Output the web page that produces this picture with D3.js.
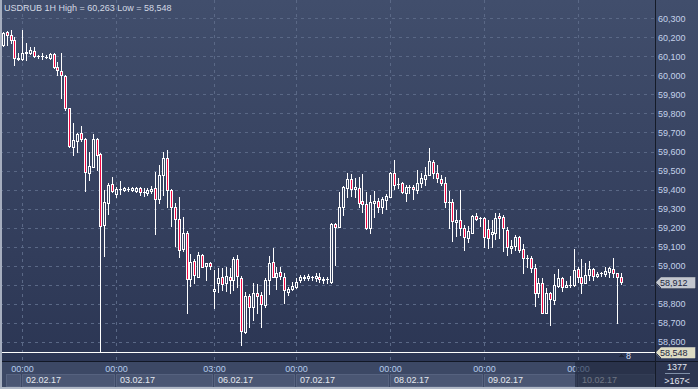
<!DOCTYPE html>
<html><head><meta charset="utf-8">
<script src="https://cdn.jsdelivr.net/npm/d3@7"></script>
<style>html,body{margin:0;padding:0;background:#2c3654;}svg{display:block;}</style>
</head><body>
<svg id="chart" width="698" height="389"></svg>
<script>
const titleText = "USDRUB 1H High = 60,263 Low = 58,548";
const opens = [60.160,60.226,60.212,60.186,60.086,60.086,60.118,60.119,60.130,60.102,
60.101,60.099,60.090,60.111,60.046,60.025,59.997,59.827,59.625,59.657,
59.696,59.664,59.485,59.520,59.664,59.587,59.214,59.331,59.429,59.377,
59.401,59.398,59.402,59.398,59.394,59.408,59.389,59.384,59.391,59.407,
59.349,59.477,59.564,59.398,59.307,59.244,59.086,59.173,58.928,59.026,
58.942,59.056,58.998,59.013,58.867,58.911,58.942,58.911,58.942,58.925,
59.034,58.934,58.653,58.841,58.784,58.858,58.846,58.793,58.925,59.021,
58.942,58.965,58.942,58.863,58.876,58.890,58.925,58.934,58.934,58.942,
58.937,58.942,58.928,58.928,58.916,59.217,59.205,59.310,59.407,59.454,
59.401,59.407,59.340,59.324,59.196,59.331,59.340,59.310,59.345,59.362,
59.489,59.429,59.433,59.384,59.412,59.412,59.398,59.433,59.454,59.477,
59.546,59.489,59.454,59.436,59.337,59.336,59.231,59.240,59.196,59.144,
59.173,59.261,59.250,59.252,59.191,59.167,59.173,59.261,59.254,59.187,
59.091,59.103,59.152,59.086,59.040,59.039,58.986,58.855,58.907,58.753,
58.858,58.819,58.893,58.934,58.890,58.897,58.898,58.981,58.939,58.911,
58.951,58.981,58.946,58.959,58.956,58.968,58.981,58.960,58.939];
const highs = [60.228,60.233,60.239,60.203,60.116,60.239,60.170,60.151,60.148,60.107,
60.116,60.107,60.116,60.116,60.072,60.116,60.002,59.827,59.750,59.697,
59.734,59.671,59.599,59.692,59.669,59.591,59.398,59.433,59.468,59.415,
59.445,59.415,59.412,59.413,59.415,59.415,59.407,59.407,59.419,59.494,
59.529,59.599,59.608,59.401,59.331,59.359,59.257,59.184,59.061,59.034,
59.073,59.061,59.013,59.021,58.976,58.986,58.986,58.991,58.986,59.047,
59.056,58.946,58.863,58.851,58.911,58.904,58.863,58.934,59.051,59.091,
58.995,58.991,58.960,58.890,58.916,58.934,58.951,58.951,58.956,58.946,
58.960,58.960,58.939,58.939,59.226,59.223,59.389,59.419,59.489,59.482,
59.459,59.464,59.482,59.389,59.371,59.392,59.354,59.362,59.377,59.494,
59.555,59.459,59.441,59.424,59.424,59.424,59.503,59.485,59.517,59.617,
59.555,59.529,59.477,59.468,59.394,59.349,59.293,59.398,59.214,59.209,
59.266,59.275,59.257,59.257,59.240,59.240,59.279,59.275,59.266,59.202,
59.135,59.161,59.156,59.114,59.056,59.051,59.009,58.934,58.934,58.881,
58.863,58.956,58.981,58.939,58.921,58.946,59.086,58.991,59.034,59.012,
59.026,58.986,58.968,58.968,58.991,58.995,59.039,58.963,58.963];
const lows = [60.154,60.160,60.170,60.055,60.081,60.081,60.081,60.111,60.095,60.090,
60.085,60.090,60.085,60.037,60.002,59.880,59.818,59.624,59.582,59.599,
59.657,59.394,59.450,59.520,59.503,58.548,59.051,59.272,59.389,59.362,
59.377,59.394,59.391,59.391,59.389,59.371,59.366,59.371,59.380,59.166,
59.328,59.371,59.307,59.209,59.103,59.044,59.079,58.750,58.893,58.911,
58.942,58.995,58.927,58.981,58.776,58.863,58.872,58.869,58.858,58.872,
58.886,58.583,58.648,58.679,58.715,58.753,58.676,58.784,58.851,58.939,
58.876,58.928,58.806,58.846,58.872,58.881,58.916,58.925,58.925,58.925,
58.921,58.916,58.907,58.907,58.911,59.002,59.205,59.266,59.362,59.366,
59.362,59.307,59.284,59.191,59.173,59.257,59.284,59.278,59.296,59.362,
59.401,59.407,59.380,59.341,59.380,59.349,59.380,59.415,59.424,59.477,
59.459,59.441,59.424,59.307,59.196,59.131,59.156,59.161,59.082,59.126,
59.170,59.240,59.209,59.097,59.091,59.097,59.139,59.144,59.079,59.056,
59.065,59.082,59.073,58.960,58.991,58.968,58.788,58.837,58.750,58.750,
58.688,58.799,58.886,58.869,58.886,58.886,58.893,58.916,58.855,58.907,
58.925,58.925,58.939,58.948,58.946,58.939,58.939,58.700,58.905];
const closes = [60.223,60.214,60.186,60.090,60.093,60.119,60.123,60.133,60.102,60.100,
60.103,60.098,60.112,60.046,60.028,60.002,59.827,59.629,59.660,59.692,
59.664,59.494,59.524,59.664,59.582,59.209,59.336,59.424,59.394,59.401,
59.403,59.408,59.401,59.408,59.408,59.389,59.388,59.398,59.405,59.349,
59.477,59.564,59.398,59.307,59.244,59.082,59.173,58.928,59.021,58.949,
59.056,58.995,59.013,58.998,58.877,58.934,58.904,58.946,58.925,59.034,
58.946,58.658,58.841,58.781,58.858,58.842,58.797,58.925,59.016,58.942,
58.963,58.946,58.872,58.876,58.893,58.916,58.942,58.942,58.946,58.941,
58.946,58.928,58.927,58.929,59.219,59.205,59.310,59.412,59.454,59.401,
59.412,59.331,59.324,59.196,59.333,59.340,59.310,59.349,59.366,59.489,
59.424,59.428,59.389,59.412,59.411,59.401,59.436,59.459,59.477,59.550,
59.489,59.459,59.436,59.336,59.335,59.236,59.240,59.196,59.152,59.184,
59.261,59.244,59.249,59.152,59.147,59.179,59.249,59.249,59.196,59.097,
59.103,59.152,59.082,59.039,59.039,58.986,58.855,58.907,58.753,58.858,
58.823,58.898,58.934,58.890,58.898,58.899,58.977,58.939,58.911,58.951,
58.981,58.946,58.956,58.960,58.974,58.986,58.960,58.939,58.912];
const yTickValues = [58.6,58.7,58.8,58.9,59.0,59.1,59.2,59.3,59.4,59.5,59.6,59.7,59.8,59.9,60.0,60.1,60.2,60.3];
const tickIndex = [5,29,54,75,99,123,147];
const timeLabels = ["00:00","00:00","03:00","00:00","00:00","00:00","00:00"];
const dateLabels = ["02.02.17","03.02.17","06.02.17","07.02.17","08.02.17","09.02.17","10.02.17"];
const lastPrice = 58.912;
const lowPrice = 58.548;
const barsTotal = "1377";
const barsVisible = ">167<";
const markerText = "8";

const W = 698, H = 389, plotR = 655, plotB = 361;
const FONT = "'Liberation Sans', Arial, sans-serif";
const fmt = v => d3.format(".3f")(v).replace(".", ",");

const svg = d3.select("#chart").attr("shape-rendering", "crispEdges");
const defs = svg.append("defs");
const g1 = defs.append("linearGradient").attr("id","bg").attr("x1",0).attr("y1",0).attr("x2",0).attr("y2",1);
g1.append("stop").attr("offset","0%").attr("stop-color","#414e6c");
g1.append("stop").attr("offset","100%").attr("stop-color","#2a3452");
defs.append("clipPath").attr("id","plotClip").append("rect").attr("x",2).attr("y",0).attr("width",plotR-2).attr("height",plotB);

svg.append("rect").attr("width",W).attr("height",H).attr("fill","url(#bg)");

const x = d3.scaleLinear().domain([-0.7, 166.8]).range([0, plotR]);
const y = d3.scaleLinear().domain([58.548, 60.300]).range([351.7, 18.3]);
const px = v => Math.round(v);

const plot = svg.append("g").attr("clip-path","url(#plotClip)");

// grid
plot.selectAll("line.hg").data(yTickValues).enter().append("line")
  .attr("x1",0).attr("x2",plotR)
  .attr("y1",d=>px(y(d))+0.5).attr("y2",d=>px(y(d))+0.5)
  .attr("stroke","#5a6886").attr("stroke-dasharray","3,4");
plot.selectAll("line.vg").data(tickIndex).enter().append("line")
  .attr("x1",d=>px(x(d))+0.5).attr("x2",d=>px(x(d))+0.5)
  .attr("y1",0).attr("y2",plotB)
  .attr("stroke","#5a6886").attr("stroke-dasharray","3,4");

// low line
plot.append("line").attr("x1",0).attr("x2",plotR)
  .attr("y1",px(y(lowPrice))+0.5).attr("y2",px(y(lowPrice))+0.5)
  .attr("stroke","#ffffff").attr("stroke-width",1);

// candles
const candles = opens.map((o,i)=>({i,o,h:highs[i],l:lows[i],c:closes[i]}));
const cg = plot.selectAll("g.candle").data(candles).enter().append("g");
cg.append("line")
  .attr("x1",d=>px(x(d.i))+0.5).attr("x2",d=>px(x(d.i))+0.5)
  .attr("y1",d=>px(y(d.h))).attr("y2",d=>px(y(d.l))+1)
  .attr("stroke","#ffffff");
cg.each(function(d){
  const g = d3.select(this);
  const cx = px(x(d.i));
  const top = px(y(Math.max(d.o,d.c))), bot = px(y(Math.min(d.o,d.c)));
  if (bot - top < 2) {
    g.append("rect").attr("x",cx-1).attr("y",top).attr("width",3).attr("height",Math.max(1,bot-top+1))
      .attr("fill","#ffffff");
  } else {
    g.append("rect").attr("x",cx-0.5).attr("y",top+0.5).attr("width",2).attr("height",bot-top)
      .attr("fill", d.c < d.o ? "#f20a44" : "#3a4664")
      .attr("stroke","#ffffff").attr("stroke-width",1);
  }
});

// marker "8"
svg.append("path").attr("d","M618,357 L621,354 L624,357 Z").attr("fill","#1e2638");
svg.append("text").attr("x",626).attr("y",358.5).text(markerText)
  .attr("font-family",FONT).attr("font-size","9px").attr("fill","#d0def2");

// title
svg.append("text").attr("x",4).attr("y",11).text(titleText)
  .attr("font-family",FONT).attr("font-size","9px").attr("fill","#d3d9e4");

// right axis
svg.append("line").attr("x1",655.5).attr("x2",655.5).attr("y1",0).attr("y2",H).attr("stroke","#151b28");
const tagPrices = [lastPrice, lowPrice];
const shownTicks = yTickValues.filter(v => tagPrices.every(t => Math.abs(y(v) - y(t)) > 8));
svg.selectAll("text.yl").data(shownTicks).enter().append("text")
  .attr("x",658).attr("y",d=>y(d)+3.3).text(d=>fmt(d))
  .attr("font-family",FONT).attr("font-size","9px").attr("fill","#c4d2ea");

function tag(price, fill){
  const cy = px(y(price)) + 0.5;
  svg.append("path").attr("d",`M656,${cy} L661,${cy-5.5} L695,${cy-5.5} L695,${cy+5.5} L661,${cy+5.5} Z`)
    .attr("fill",fill).attr("stroke","#8a8f9a").attr("stroke-width",0.5);
  svg.append("text").attr("x",660).attr("y",cy+3.3).text(fmt(price))
    .attr("font-family",FONT).attr("font-size","9px").attr("fill","#1c2540");
}
tag(lastPrice, "#c3c7cf");
tag(lowPrice, "#dedcc4");

// bottom axis strip
svg.append("rect").attr("x",0).attr("y",plotB+1).attr("width",W).attr("height",H-plotB-1).attr("fill","#3c4865");
svg.append("line").attr("x1",0).attr("x2",W).attr("y1",plotB+0.5).attr("y2",plotB+0.5).attr("stroke","#121826");
svg.append("line").attr("x1",655.5).attr("x2",655.5).attr("y1",plotB).attr("y2",H).attr("stroke","#151b28");

const boxEdges = [-1].concat(tickIndex);
const boxes = boxEdges.map((t,k)=>({
  x0: k===0 ? 6 : px(x(t)),
  x1: k < boxEdges.length-1 ? px(x(boxEdges[k+1]))-2 : plotR-1
}));
svg.selectAll("rect.db").data(boxes).enter().append("rect")
  .attr("x",d=>d.x0+0.5).attr("y",374.5).attr("width",d=>d.x1-d.x0).attr("height",12)
  .attr("fill","#4a5673").attr("stroke","#56627f");

svg.selectAll("text.tl").data(tickIndex).enter().append("text")
  .attr("x",d=>px(x(d))+0.5).attr("y",371.5).attr("text-anchor","middle")
  .text((d,k)=>timeLabels[k])
  .attr("font-family",FONT).attr("font-size","9px").attr("fill","#b4ccec");
svg.selectAll("text.dl").data(tickIndex).enter().append("text")
  .attr("x",d=>px(x(d))+4).attr("y",383)
  .text((d,k)=>dateLabels[k])
  .attr("font-family",FONT).attr("font-size","9px").attr("fill","#e4e8f0");

// dark overlay for future zone
svg.append("rect").attr("x",px(x(tickIndex[tickIndex.length-1]))-3).attr("y",plotB+1)
  .attr("width",plotR - px(x(tickIndex[tickIndex.length-1])) + 3).attr("height",H-plotB-3)
  .attr("fill","#1c2438").attr("opacity",0.6);
svg.append("rect").attr("x",656).attr("y",plotB+1).attr("width",W-656).attr("height",H-plotB-3)
  .attr("fill","#2c3550");

svg.append("text").attr("x",677).attr("y",370).attr("text-anchor","middle").text(barsTotal)
  .attr("font-family",FONT).attr("font-size","9px").attr("fill","#e4e8f0");
svg.append("line").attr("x1",665).attr("x2",690).attr("y1",373.5).attr("y2",373.5).attr("stroke","#8090a8");
svg.append("text").attr("x",677).attr("y",384).attr("text-anchor","middle").text(barsVisible)
  .attr("font-family",FONT).attr("font-size","9px").attr("fill","#e4e8f0");

// outer borders
svg.append("rect").attr("x",0).attr("y",0).attr("width",2).attr("height",H).attr("fill","#a6aebf");
svg.append("rect").attr("x",0).attr("y",H-2).attr("width",W).attr("height",2).attr("fill","#b0b8c6");
</script>
</body></html>
